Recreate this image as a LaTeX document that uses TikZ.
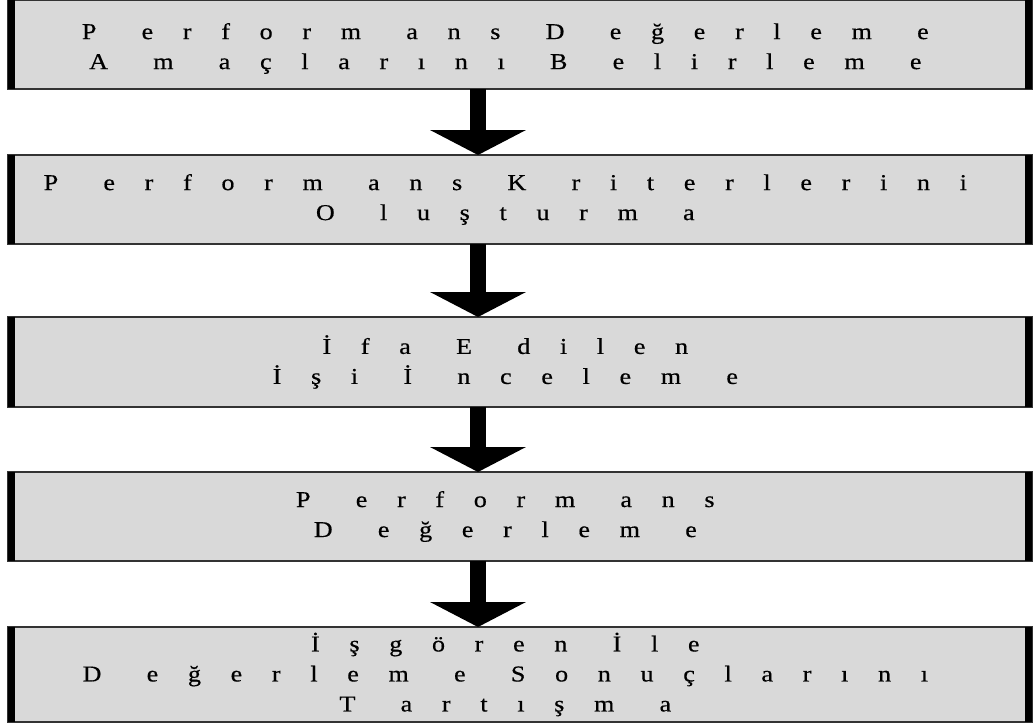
\documentclass[tikz,border=0pt]{standalone}
\usepackage{fontspec}
\usepackage{tikz}
\usetikzlibrary{arrows.meta}
\newfontfamily\kutufont[LetterSpace=131,WordSpace=1.25,FakeStretch=1.15,FakeBold=0.5]{Liberation Serif}

\begin{document}
\begin{tikzpicture}[x=0.75pt,y=-0.75pt,
kutu/.style={draw=black!80,line width=0.9pt,fill=black!15,minimum width=768pt,minimum height=66.75pt,outer sep=0pt,inner sep=0pt},
yazi/.style={align=center,inner sep=0pt,font=\kutufont\fontsize{17}{22.5}\selectfont},
ok/.style={line width=12pt,-{Triangle[width=71.25pt,length=18.75pt]}},
kenar/.style={line width=5.25pt,line cap=butt}]
\useasboundingbox (0,0) rectangle (1033,728);
\node[kutu] (b1) at (520,44.5) {};
\node[kutu] (b2) at (520,199.5) {};
\node[kutu,minimum height=67.5pt] (b3) at (520,362) {};
\node[kutu] (b4) at (520,516.5) {};
\node[kutu,minimum height=71.25pt] (b5) at (520,674.5) {};
\node[yazi] (y1) at ([xshift=-11pt,yshift=-3pt]b1.center) {P erform ans D eğerlem e\\A m açlarını B elirlem e};
\node[yazi] (y2) at ([xshift=-11pt]b2.center) {P erform ans K riterlerini\\O luşturm a};
\node[yazi] (y3) at ([xshift=-11pt]b3.center) {İfa E dilen\\İşi İ ncelem e};
\node[yazi] (y4) at ([xshift=-11pt]b4.center) {P erform ans\\D eğerlem e};
\node[yazi] (y5) at ([xshift=-11pt]b5.center) {İşgören İle\\D eğerlem e Sonuçlarını\\T artışm a};
\coordinate (okx) at (478,0);
%kalin kenarlar
\foreach \b in {b1,b2,b3,b4,b5}{
\draw[kenar]([xshift=2.6pt]\b.north west)--([xshift=2.6pt]\b.south west);
\draw[kenar]([xshift=-2.6pt]\b.north east)--([xshift=-2.6pt]\b.south east);
}
\foreach \a/\b in {b1/b2,b2/b3,b3/b4,b4/b5}
\draw[ok](\a.south -| okx)--(\b.north -| okx);
\end{tikzpicture}
\end{document}
